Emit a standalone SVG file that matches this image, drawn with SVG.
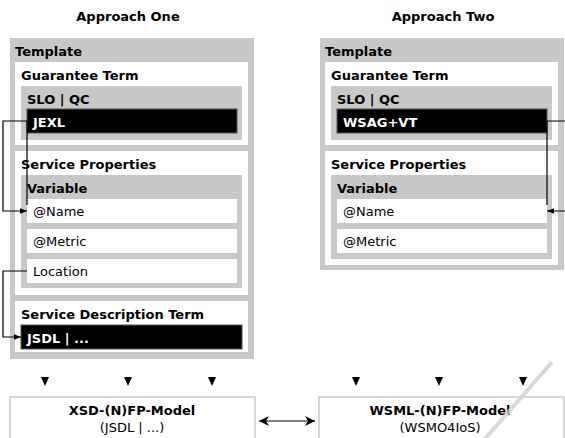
<svg xmlns="http://www.w3.org/2000/svg" width="565" height="438" viewBox="0 0 565 438">
<style>
text{font-family:"DejaVu Sans","Liberation Sans",sans-serif;font-size:13px;fill:#000}
.b{font-weight:bold}
.w{fill:#fff;font-weight:bold}
.g{fill:#c8c8c8}
.wh{fill:#fff}
.bk{fill:#000;stroke:#555;stroke-width:1}
.ln{fill:none;stroke:#000;stroke-width:1.2}
.mdl{fill:#fff;stroke:#c8c8c8;stroke-width:1.5}
.tri{fill:#000}
</style>
<defs>
<marker id="ah" viewBox="0 0 10 10" refX="10" refY="5" markerWidth="7" markerHeight="7" orient="auto-start-reverse" markerUnits="userSpaceOnUse">
<path d="M0,1 L10,5 L0,9 Z" fill="#000"/>
</marker>
<marker id="ah2" viewBox="0 0 10 10" refX="10" refY="5" markerWidth="14" markerHeight="10" orient="auto-start-reverse" markerUnits="userSpaceOnUse">
<path d="M0,0 L10,5 L0,10 L3,5 Z" fill="#000"/>
</marker>
</defs>

<text class="b" x="128" y="21" text-anchor="middle">Approach One</text>
<text class="b" x="443" y="21" text-anchor="middle">Approach Two</text>

<g id="template-one">
<rect class="g" x="10" y="38" width="244" height="321"/>
<text class="b" x="15" y="56">Template</text>
<g id="guarantee-one">
<rect class="wh" x="15" y="62" width="233" height="83"/>
<text class="b" x="21" y="80">Guarantee Term</text>
<rect class="g" x="21" y="86" width="221" height="54"/>
<text class="b" x="27" y="104">SLO | QC</text>
<rect class="bk" x="27" y="109" width="210" height="24"/>
<text class="w" x="33" y="127">JEXL</text>
</g>
<g id="props-one">
<rect class="wh" x="15" y="151" width="233" height="144"/>
<text class="b" x="21" y="169">Service Properties</text>
<rect class="g" x="21" y="175" width="221" height="113"/>
<text class="b" x="27" y="193">Variable</text>
<rect class="wh" x="27" y="199" width="210" height="24"/>
<text x="33" y="216">@Name</text>
<rect class="wh" x="27" y="229" width="210" height="24"/>
<text x="33" y="246">@Metric</text>
<rect class="wh" x="27" y="259" width="210" height="24"/>
<text x="33" y="276">Location</text>
</g>
<g id="sdt-one">
<rect class="wh" x="15" y="301" width="233" height="51"/>
<text class="b" x="21" y="319">Service Description Term</text>
<rect class="bk" x="21" y="325" width="221" height="24"/>
<text class="w" x="27" y="343">JSDL | ...</text>
</g>
</g>

<g id="template-two">
<rect class="g" x="320" y="38" width="244" height="232"/>
<text class="b" x="325" y="56">Template</text>
<g id="guarantee-two">
<rect class="wh" x="325" y="62" width="233" height="83"/>
<text class="b" x="331" y="80">Guarantee Term</text>
<rect class="g" x="331" y="86" width="221" height="54"/>
<text class="b" x="337" y="104">SLO | QC</text>
<rect class="bk" x="337" y="109" width="210" height="24"/>
<text class="w" x="343" y="127">WSAG+VT</text>
</g>
<g id="props-two">
<rect class="wh" x="325" y="151" width="233" height="114"/>
<text class="b" x="331" y="169">Service Properties</text>
<rect class="g" x="331" y="175" width="221" height="84"/>
<text class="b" x="337" y="193">Variable</text>
<rect class="wh" x="337" y="199" width="210" height="24"/>
<text x="343" y="216">@Name</text>
<rect class="wh" x="337" y="229" width="210" height="24"/>
<text x="343" y="246">@Metric</text>
</g>
</g>

<g id="model-one">
<rect class="mdl" x="10" y="397" width="245" height="50"/>
<text class="b" x="132" y="415" text-anchor="middle">XSD-(N)FP-Model</text>
<text x="132" y="432" text-anchor="middle">(JSDL | ...)</text>
</g>
<g id="model-two">
<rect class="mdl" x="319" y="397" width="245" height="50"/>
<text class="b" x="440" y="415" text-anchor="middle">WSML-(N)FP-Model</text>
<text x="440" y="432" text-anchor="middle">(WSMO4IoS)</text>
</g>

<g id="connectors">
<path class="ln" d="M27,121 H3 V211 H27" marker-end="url(#ah)"/>
<path class="ln" d="M27,121 V205"/>
<path class="ln" d="M27,271 H3 V337 H21" marker-end="url(#ah)"/>
<path class="ln" d="M547,121 H570 V211 H547" marker-end="url(#ah)"/>
<path class="ln" d="M547,121 V205"/>
<path class="ln" d="M259,421 H315" marker-start="url(#ah2)" marker-end="url(#ah2)"/>
<path class="tri" d="M41,377 H49 L45,386 Z"/>
<path class="tri" d="M124,377 H132 L128,386 Z"/>
<path class="tri" d="M208,377 H216 L212,386 Z"/>
<path class="tri" d="M352,377 H360 L356,386 Z"/>
<path class="tri" d="M435,377 H443 L439,386 Z"/>
<path class="tri" d="M519,377 H527 L523,386 Z"/>
</g>
<line x1="552" y1="362" x2="484" y2="440" stroke="#d0d0d0" stroke-width="4" opacity="0.8"/>
</svg>
